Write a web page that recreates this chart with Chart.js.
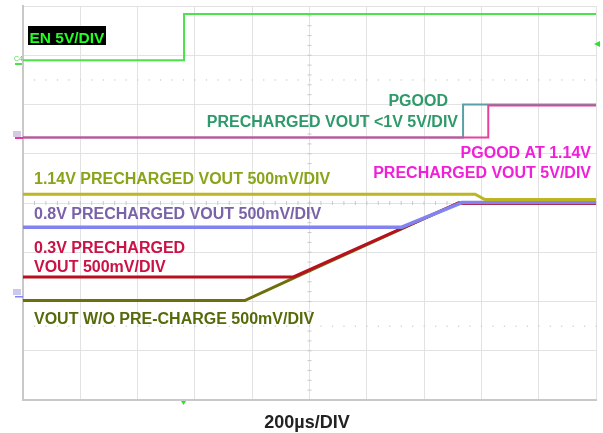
<!DOCTYPE html>
<html>
<head>
<meta charset="utf-8">
<script src="https://cdn.jsdelivr.net/npm/chart.js@4"></script>
<style>
  body { margin: 0; background: #fff; }
  #wrap { width: 603px; height: 433px; }
</style>
</head>
<body>
<div id="wrap"><canvas id="scope"></canvas></div>
<script>
// values in scope divisions (x: 0..10 time divs, y: 0..8 vertical divs)
const enX = [0, 2.81, 2.81, 10];
const enY = [6.90, 6.90, 7.84, 7.84];
const pgoodX = [0, 7.68, 7.68, 10];
const pgoodY = [5.33, 5.33, 6.00, 6.00];
const pgood114X = [0, 8.12, 8.12, 10];
const pgood114Y = [5.33, 5.33, 5.98, 5.98];
const v114X = [0, 7.89, 8.06, 10];
const v114Y = [4.18, 4.18, 4.07, 4.07];
const v08X = [0, 6.61, 7.66, 10];
const v08Y = [3.51, 3.51, 4.01, 4.01];
const v03X = [0, 4.72, 7.60, 7.70, 10];
const v03Y = [2.50, 2.50, 4.00, 3.99, 3.99];
const vNoPreX = [0, 3.87, 4.71, 7.60, 7.70, 10];
const vNoPreY = [2.02, 2.02, 2.47, 4.00, 3.99, 3.99];

const pts = (xs, ys) => xs.map((x, i) => ({ x: x, y: ys[i] }));

const trace = (label, xs, ys, color, width, order) => ({
  label: label,
  data: pts(xs, ys),
  borderColor: color,
  borderWidth: width,
  pointRadius: 0,
  tension: 0,
  order: order,
});

// scope decorations: labels, dotted rows, centre ticks, channel markers
const scopeDeco = {
  id: 'scopeDeco',
  beforeDatasetsDraw(chart) {
    const { ctx, scales: { x, y } } = chart;
    ctx.save();
    ctx.fillStyle = '#c8c8c8';
    [6.5, 1.5].forEach((row) => {
      for (let d = 0.2; d < 10; d += 0.2) {
        ctx.fillRect(x.getPixelForValue(d) - 0.5, y.getPixelForValue(row) - 0.5, 1.2, 1.2);
      }
    });
    for (let d = 0.2; d < 10; d += 0.2) {
      ctx.fillRect(x.getPixelForValue(d) - 0.5, y.getPixelForValue(4) - 2, 1, 4);
    }
    for (let d = 0.2; d < 8; d += 0.2) {
      ctx.fillRect(x.getPixelForValue(5) - 2, y.getPixelForValue(d) - 0.5, 4, 1);
    }
    ctx.restore();
  },
  afterDatasetsDraw(chart) {
    const { ctx } = chart;
    ctx.save();
    ctx.textBaseline = 'alphabetic';

    ctx.fillStyle = '#000';
    ctx.fillRect(28, 26, 78, 19);
    ctx.font = 'bold 15.5px "Liberation Sans", Arial, sans-serif';
    ctx.fillStyle = '#22ff22';
    ctx.fillText('EN 5V/DIV', 29.5, 42.5);

    ctx.font = 'bold 16px "Liberation Sans", Arial, sans-serif';
    ctx.fillStyle = '#2e9a6a';
    ctx.textAlign = 'right';
    ctx.fillText('PGOOD', 448, 106);
    ctx.fillText('PRECHARGED VOUT <1V 5V/DIV', 458, 126.5);

    ctx.fillStyle = '#f01fd8';
    ctx.fillText('PGOOD AT 1.14V', 591, 157.5);
    ctx.fillText('PRECHARGED VOUT 5V/DIV', 591, 178);

    ctx.textAlign = 'left';
    ctx.fillStyle = '#88a51a';
    ctx.fillText('1.14V PRECHARGED VOUT 500mV/DIV', 34, 183.5);
    ctx.fillStyle = '#7a62a8';
    ctx.fillText('0.8V PRECHARGED VOUT 500mV/DIV', 34, 219);
    ctx.fillStyle = '#cc1144';
    ctx.fillText('0.3V PRECHARGED', 34, 252.5);
    ctx.fillText('VOUT 500mV/DIV', 34, 272);
    ctx.fillStyle = '#556b0a';
    ctx.fillText('VOUT W/O PRE-CHARGE 500mV/DIV', 34, 323.5);

    ctx.fillStyle = '#222';
    ctx.textAlign = 'center';
    ctx.font = 'bold 18px "Liberation Sans", Arial, sans-serif';
    ctx.fillText('200\u00b5s/DIV', 307, 427.5);

    // channel markers
    ctx.font = '7px "Liberation Sans", Arial, sans-serif';
    ctx.textAlign = 'left';
    ctx.fillStyle = '#4be34b';
    ctx.fillText('C4', 14, 61);
    ctx.fillRect(15, 63, 7, 2);
    ctx.fillStyle = '#d8c8e8';
    ctx.fillRect(13, 131, 8, 6);
    ctx.fillStyle = '#e8389a';
    ctx.fillRect(15, 137, 8, 2);
    ctx.fillStyle = '#c8c8f0';
    ctx.fillRect(13, 289, 8, 6);
    ctx.fillStyle = '#8282f0';
    ctx.fillRect(15, 296, 8, 1.5);

    ctx.fillStyle = '#33dd33';
    ctx.beginPath();
    ctx.moveTo(594, 44); ctx.lineTo(600, 41); ctx.lineTo(600, 47); ctx.closePath(); ctx.fill();
    ctx.beginPath();
    ctx.moveTo(181, 401); ctx.lineTo(186, 401); ctx.lineTo(183.5, 405); ctx.closePath(); ctx.fill();
    ctx.restore();
  },
};

new Chart(document.getElementById('scope'), {
  type: 'line',
  data: {
    datasets: [
      trace('EN', enX, enY, '#4be34b', 2, 0),
      trace('PGOOD 1.14V', pgood114X, pgood114Y, '#e8409c', 2, 1),
      trace('PGOOD', pgoodX, pgoodY, '#5aa0a5', 2, 2),
      trace('1.14V', v114X, v114Y, '#bdb522', 3, 3),
      trace('0.8V', v08X, v08Y, '#8282f0', 3.5, 4),
      trace('0.3V', v03X, v03Y, '#b8101e', 3, 5),
      trace('W/O', vNoPreX, vNoPreY, '#6e6e0c', 3, 6),
    ],
  },
  options: {
    responsive: true,
    maintainAspectRatio: false,
    animation: false,
    layout: { padding: { left: 23, right: 7, top: 6, bottom: 33 } },
    plugins: { legend: { display: false }, tooltip: { enabled: false } },
    scales: {
      x: {
        type: 'linear', min: 0, max: 10,
        ticks: { display: false, stepSize: 1 },
        grid: { color: '#e2e2e2', drawTicks: false },
        border: { color: '#c8c8c8', width: 2 },
      },
      y: {
        type: 'linear', min: 0, max: 8,
        ticks: { display: false, stepSize: 1 },
        grid: { color: '#e2e2e2', drawTicks: false },
        border: { color: '#c8c8c8', width: 2 },
      },
    },
  },
  plugins: [scopeDeco],
});
</script>
</body>
</html>
